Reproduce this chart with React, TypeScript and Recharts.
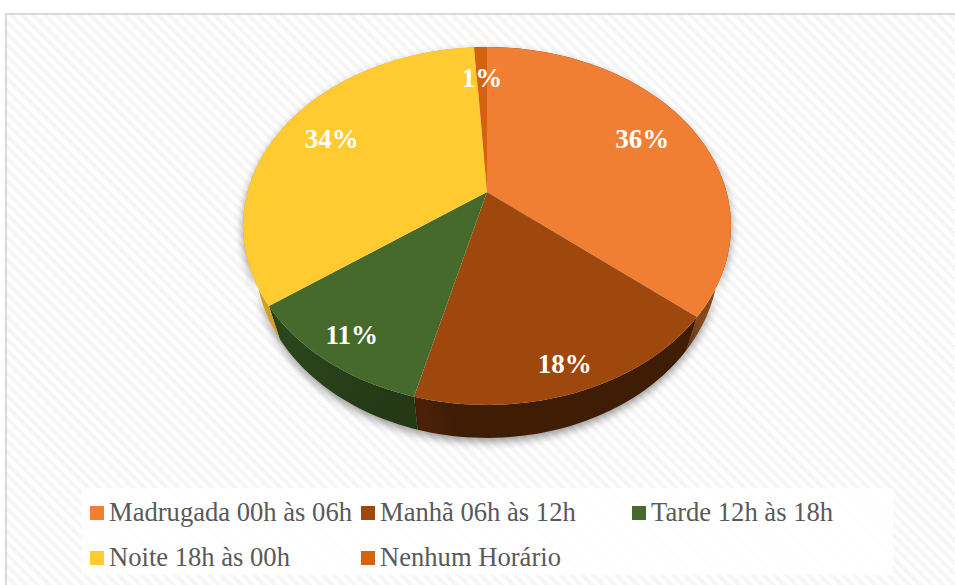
import React from "react";
import { PieChart, Pie, Legend, Cell } from "recharts";

const categories = [
  "Madrugada 00h às 06h",
  "Manhã 06h às 12h",
  "Tarde 12h às 18h",
  "Noite 18h às 00h",
  "Nenhum Horário",
];
const shares = [36, 18, 11, 34, 1];
const faceColors = ["#F07E33", "#9E480D", "#456A2C", "#FFCB30", "#D5620F"];
const wallDark = ["#6B3A16", "#3F1D04", "#243A16", "#D2A022", "#7A3A0A"];
const wallLight = ["#86491C", "#4E2307", "#30491E", "#E0AC26", "#8A420C"];
const wallHold = [0.7, 0.9, 0.15, 0.7, 0.7];

const rows = categories.map((name, i) => ({ name, value: shares[i] }));

// Perspective tilt of the 3D pie: maps a point of the unit circle to the screen.
const TILT = -0.19;
const FLATTEN = 0.72;
const DEPTH = 33;
const FLOOR_SHRINK = 0.95;

const project = (cx: number, cy: number, R: number, deg: number, r = 1) => {
  const t = ((90 - deg) * Math.PI) / 180;
  const u = Math.sin(t) * r;
  const v = -Math.cos(t) * r;
  const w = 1 + TILT * v;
  return { x: cx + (R * u) / w, y: cy + (R * FLATTEN * v) / w };
};

const arcPoints = (s: any) => {
  const n = Math.max(2, Math.ceil(Math.abs(s.endAngle - s.startAngle) / 1.5));
  const pts = [];
  for (let i = 0; i <= n; i++) {
    const deg = s.startAngle + ((s.endAngle - s.startAngle) * i) / n;
    pts.push(project(s.cx, s.cy, s.outerRadius, deg));
  }
  return pts;
};

const Face = (s: any) => {
  const pts = arcPoints(s);
  const d =
    `M${s.cx},${s.cy} ` + pts.map((p) => `L${p.x.toFixed(2)},${p.y.toFixed(2)}`).join(" ") + " Z";
  return <path d={d} fill={s.fill} stroke="none" />;
};

const Wall = (s: any) => {
  const pts = arcPoints(s);
  const low = pts
    .map((p) => ({ x: s.cx + (p.x - s.cx) * FLOOR_SHRINK, y: p.y + DEPTH }))
    .reverse();
  const d =
    pts.map((p, i) => `${i ? "L" : "M"}${p.x.toFixed(2)},${p.y.toFixed(2)}`).join(" ") +
    " " +
    low.map((p) => `L${p.x.toFixed(2)},${p.y.toFixed(2)}`).join(" ") +
    " Z";
  const i = categories.indexOf(s.name);
  const id = `wall-${i}`;
  const first = pts[0];
  const last = pts[pts.length - 1];
  return (
    <g>
      <defs>
        <linearGradient
          id={id}
          gradientUnits="userSpaceOnUse"
          x1={first.x}
          y1={first.y}
          x2={last.x}
          y2={last.y}
        >
          <stop offset="0" stopColor={wallDark[i]} />
          <stop offset={wallHold[i]} stopColor={wallDark[i]} />
          <stop offset="1" stopColor={wallLight[i]} />
        </linearGradient>
      </defs>
      <path
        d={d}
        fill={`url(#${id})`}
        style={{ filter: "drop-shadow(0px 4px 4px rgba(0,0,0,0.4))" }}
      />
    </g>
  );
};

const renderLabel = (p: any) => {
  const t = (p.midAngle * Math.PI) / 180;
  const r = 0.76 + 0.13 * Math.max(0, -Math.sin(t));
  const pos = project(p.cx, p.cy, p.outerRadius, p.midAngle, r);
  return (
    <text
      x={pos.x}
      y={pos.y}
      fill="#FFFFFF"
      textAnchor="middle"
      dominantBaseline="central"
      fontFamily="'Liberation Serif', serif"
      fontWeight={700}
      fontSize={27}
    >
      {`${p.value}%`}
    </text>
  );
};

const renderLegend = (props: any) => {
  // Both pies report entries; the face pie (drawn last) holds the real colours.
  const byName = new Map<string, any>();
  (props.payload || []).forEach((it: any) => byName.set(it.value, it));
  const items = categories.map((name) => byName.get(name)).filter(Boolean);
  return (
    <div
      style={{
        display: "grid",
        gridTemplateColumns: "271px 271px 240px",
        gridAutoRows: "45px",
        padding: "2px 0 0 8px",
        fontFamily: "'Liberation Serif', serif",
        fontSize: 26.6,
        color: "#595959",
        lineHeight: "45px",
        whiteSpace: "nowrap",
      }}
    >
      {items.map((it: any) => (
        <div key={it.value} style={{ display: "flex", alignItems: "center" }}>
          <span
            style={{
              width: 14,
              height: 14,
              marginRight: 5,
              background: it.color,
              display: "inline-block",
              flex: "none",
            }}
          />
          {it.value}
        </div>
      ))}
    </div>
  );
};

export default function App() {
  return (
    <div
      style={{
        position: "absolute",
        left: 0,
        top: 0,
        width: 955,
        height: 585,
        overflow: "hidden",
        background: "#fff",
      }}
    >
      <div
        style={{
          position: "absolute",
          left: 5,
          top: 13,
          width: 950,
          height: 572,
          boxSizing: "border-box",
          borderLeft: "2px solid #D9D9D9",
          borderTop: "2px solid #D9D9D9",
          background:
            "repeating-linear-gradient(45deg, #FFFFFF 0px, #FFFFFF 4px, #F6F6F6 4px, #F6F6F6 8px)",
        }}
      />
      <div style={{ position: "absolute", left: 0, top: 0 }}>
        <PieChart width={955} height={585} margin={{ top: 0, right: 0, bottom: 0, left: 0 }}>
          <Legend
            content={renderLegend}
            wrapperStyle={{
              left: 82,
              top: 488,
              bottom: "auto",
              width: 811,
              height: 87,
              background: "rgba(255,255,255,0.85)",
            }}
          />
          <Pie
            data={rows}
            dataKey="value"
            nameKey="name"
            cx={487}
            cy={192}
            outerRadius={239.5}
            innerRadius={0}
            startAngle={90}
            endAngle={-270}
            stroke="none"
            legendType="none"
            isAnimationActive={false}
            shape={Wall}
          />
          <Pie
            data={rows}
            dataKey="value"
            nameKey="name"
            cx={487}
            cy={192}
            outerRadius={239.5}
            innerRadius={0}
            startAngle={90}
            endAngle={-270}
            stroke="none"
            isAnimationActive={false}
            shape={Face}
            label={renderLabel}
            labelLine={false}
          >
            {rows.map((r, i) => (
              <Cell key={r.name} fill={faceColors[i]} />
            ))}
          </Pie>
        </PieChart>
      </div>
    </div>
  );
}
